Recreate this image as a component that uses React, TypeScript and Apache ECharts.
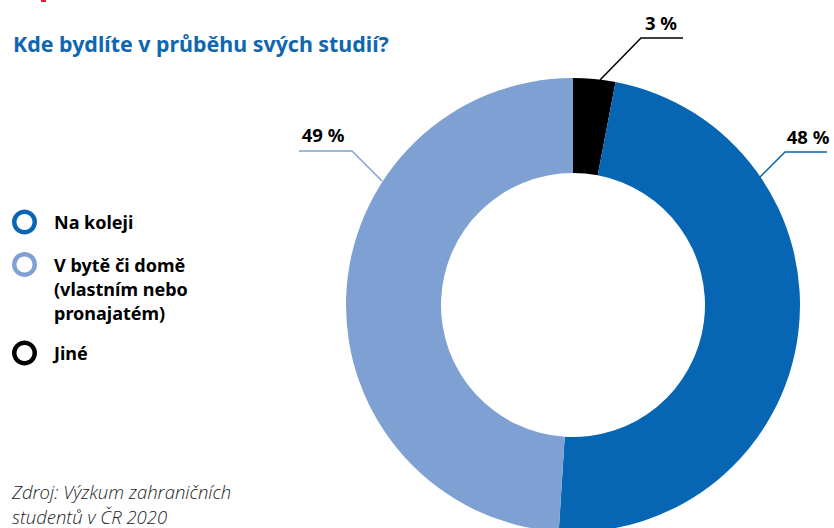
import React, { useEffect, useRef } from "react";
import * as echarts from "echarts";

const categories = ["Jiné", "Na koleji", "V bytě či domě (vlastním nebo pronajatém)"];
const values = [3, 48, 49];
const colors = ["#000000", "#0766B3", "#7FA0D3"];
const legendLabels = ["Na koleji", "V bytě či domě\n(vlastním nebo\npronajatém)", "Jiné"];
const legendColors = ["#0766B3", "#7FA0D3", "#000000"];
const titleText = "Kde bydlíte v průběhu svých studií?";
const sourceLines = ["Zdroj: Výzkum zahraničních", "studentů v ČR 2020"];

// label anchor positions (annotation layout)
const labelPos = [
  { x: 661, y: 22, line: [[600, 80], [641, 38], [683, 38]] },
  { x: 808, y: 136, line: [[760, 177], [785, 152], [827, 152]] },
  { x: 323, y: 134, line: [[382, 181], [352, 151], [299, 151]] },
];

const FONT = "'Noto Sans', sans-serif";

export default function App() {
  const ref = useRef<HTMLDivElement>(null);
  useEffect(() => {
    document.body.style.margin = "0";
    const chart = echarts.init(ref.current!, undefined, { renderer: "svg" });
    const legendY = [222, 264.5, 353];
    const graphics: any[] = [
      { type: "rect", shape: { x: 41, y: 0, width: 5, height: 2 }, style: { fill: "#e8202a" } },
    ];
    legendLabels.forEach((t, i) => {
      graphics.push({
        type: "ring",
        shape: { cx: 24.5, cy: legendY[i], r: 12.5, r0: 8 },
        style: { fill: legendColors[i] },
      });
      graphics.push({
        type: "text",
        x: 54,
        y: legendY[i] - 12,
        style: {
          text: t,
          fill: "#000",
          font: `bold 18px ${FONT}`,
          lineHeight: 24,
          textVerticalAlign: "top",
        },
      });
    });
    const sourceY = [491, 516];
    sourceLines.forEach((t, i) => {
      graphics.push({
        type: "text",
        x: 12,
        y: sourceY[i],
        style: {
          text: t,
          fill: "#222",
          font: `italic 300 18.5px 'Open Sans', sans-serif`,
          lineHeight: 19,
          textVerticalAlign: "middle",
        },
      });
    });

    chart.setOption({
      animation: false,
      title: {
        text: titleText,
        left: 8,
        top: 28,
        textStyle: { color: "#0F66B1", fontSize: 21.4, fontWeight: "bold", fontFamily: FONT },
      },
      graphic: graphics,
      series: [
        {
          type: "pie",
          center: [573, 305],
          radius: [132, 227],
          startAngle: 90,
          clockwise: true,
          data: categories.map((c, i) => ({ name: c, value: values[i], itemStyle: { color: colors[i] } })),
          label: {
            show: true,
            formatter: (p: any) => `${p.value} %`,
            color: "#000",
            fontSize: 18.5,
            fontWeight: "bold",
            fontFamily: FONT,
            overflow: "none",
          },
          labelLine: {
            show: true,
            length: 20,
            length2: 20,
            lineStyle: { width: 1.5 },
          },
          labelLayout: (params: any) => {
            const p = labelPos[params.dataIndex];
            return {
              x: p.x,
              y: p.y,
              align: "center",
              verticalAlign: "middle",
              labelLinePoints: p.line,
            };
          },
          emphasis: { disabled: true },
        },
      ],
    });
    return () => chart.dispose();
  }, []);
  return <div ref={ref} style={{ width: 834, height: 528 }} />;
}
